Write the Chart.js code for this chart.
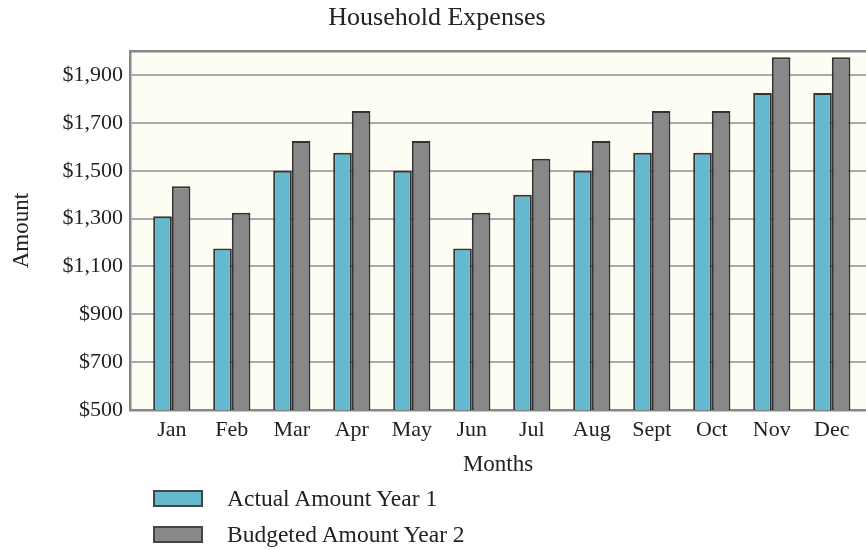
<!DOCTYPE html>
<html>
<head>
<meta charset="utf-8">
<script src="https://cdn.jsdelivr.net/npm/chart.js@4/dist/chart.umd.min.js"></script>
<style>
  html, body { margin: 0; padding: 0; background: #ffffff; }
  #wrap { position: relative; width: 866px; height: 550px; }
  #c { position: absolute; left: 0; top: 0; }
  #legend { position: absolute; left: 153px; top: 480px; font-family: "Liberation Serif", serif; font-size: 23.5px; color: #222; }
  .item { display: flex; align-items: center; height: 36px; }
  .box { width: 46px; height: 13px; border: 2px solid #444; margin-right: 24px; }
</style>
</head>
<body>
<div id="wrap">
  <canvas id="c" width="866" height="550"></canvas>
  <div id="legend"></div>
</div>
<script>
const months = ["Jan", "Feb", "Mar", "Apr", "May", "Jun", "Jul", "Aug", "Sept", "Oct", "Nov", "Dec"];
const actualYear1 = [1310, 1175, 1500, 1575, 1500, 1175, 1400, 1500, 1575, 1575, 1825, 1825];
const budgetedYear2 = [1435, 1325, 1625, 1750, 1625, 1325, 1550, 1625, 1750, 1750, 1975, 1975];
const yTicks = [500, 700, 900, 1100, 1300, 1500, 1700, 1900];
const seriesNames = ["Actual Amount Year 1", "Budgeted Amount Year 2"];
const seriesColors = ["#64b9cf", "#888888"];

const toPoints = arr => arr.map((v, i) => ({ x: i, y: v }));

const plotBg = {
  id: 'plotBg',
  beforeDraw(chart) {
    const { ctx, chartArea: a } = chart;
    ctx.save();
    ctx.fillStyle = '#fefdf4';
    ctx.fillRect(a.left, a.top, a.right - a.left, a.bottom - a.top);
    ctx.restore();
  },
  afterDatasetsDraw(chart) {
    const { ctx, chartArea: a } = chart;
    ctx.save();
    ctx.strokeStyle = '#888888';
    ctx.lineWidth = 2.5;
    ctx.beginPath();
    ctx.moveTo(a.left, a.top);
    ctx.lineTo(a.right, a.top);
    ctx.stroke();
    ctx.restore();
  }
};

const font = "'Liberation Serif', serif";

const chart = new Chart(document.getElementById('c'), {
  type: 'bar',
  data: {
    datasets: [
      { label: seriesNames[0], data: toPoints(actualYear1), backgroundColor: seriesColors[0], borderColor: '#333333', borderWidth: 2 },
      { label: seriesNames[1], data: toPoints(budgetedYear2), backgroundColor: seriesColors[1], borderColor: '#333333', borderWidth: 2 }
    ]
  },
  options: {
    responsive: false,
    animation: false,
    devicePixelRatio: 1,
    layout: { padding: { left: 8, right: 0, top: 0, bottom: 71 } },
    datasets: { bar: { categoryPercentage: 0.62, barPercentage: 1.0 } },
    plugins: {
      legend: { display: false },
      tooltip: { enabled: false },
      title: {
        display: true,
        text: 'Household Expenses',
        color: '#222',
        font: { family: font, size: 26, weight: 'normal' },
        padding: { top: 3, bottom: 17 }
      }
    },
    scales: {
      x: {
        type: 'linear',
        offset: false,
        min: -0.695,
        max: 11.57,
        afterBuildTicks: s => { s.ticks = months.map((m, i) => ({ value: i })); },
        ticks: {
          autoSkip: false,
          maxRotation: 0,
          padding: 7,
          color: '#222',
          font: { family: font, size: 22 },
          callback: v => months[v]
        },
        grid: { display: false, drawTicks: false, offset: false },
        border: { display: true, color: '#888888', width: 2.5 },
        title: {
          display: true, text: 'Months', color: '#222',
          font: { family: font, size: 23 },
          padding: { top: 1, bottom: 0 }
        }
      },
      y: {
        min: 500,
        max: 2000,
        afterBuildTicks: s => { s.ticks = yTicks.map(v => ({ value: v })); },
        ticks: {
          padding: 7,
          color: '#222',
          font: { family: font, size: 22 },
          callback: v => '$' + v.toLocaleString('en-US')
        },
        grid: { color: '#aaaaaa', lineWidth: 2, drawTicks: false },
        border: { display: true, color: '#888888', width: 2.5 },
        title: {
          display: true, text: 'Amount', color: '#222',
          font: { family: font, size: 23 },
          padding: { top: 0, bottom: 20 }
        }
      }
    }
  },
  plugins: [plotBg]
});

const legend = document.getElementById('legend');
chart.data.datasets.forEach(ds => {
  const item = document.createElement('div');
  item.className = 'item';
  const box = document.createElement('div');
  box.className = 'box';
  box.style.background = ds.backgroundColor;
  const txt = document.createElement('span');
  txt.textContent = ds.label;
  item.appendChild(box);
  item.appendChild(txt);
  legend.appendChild(item);
});
</script>
</body>
</html>
